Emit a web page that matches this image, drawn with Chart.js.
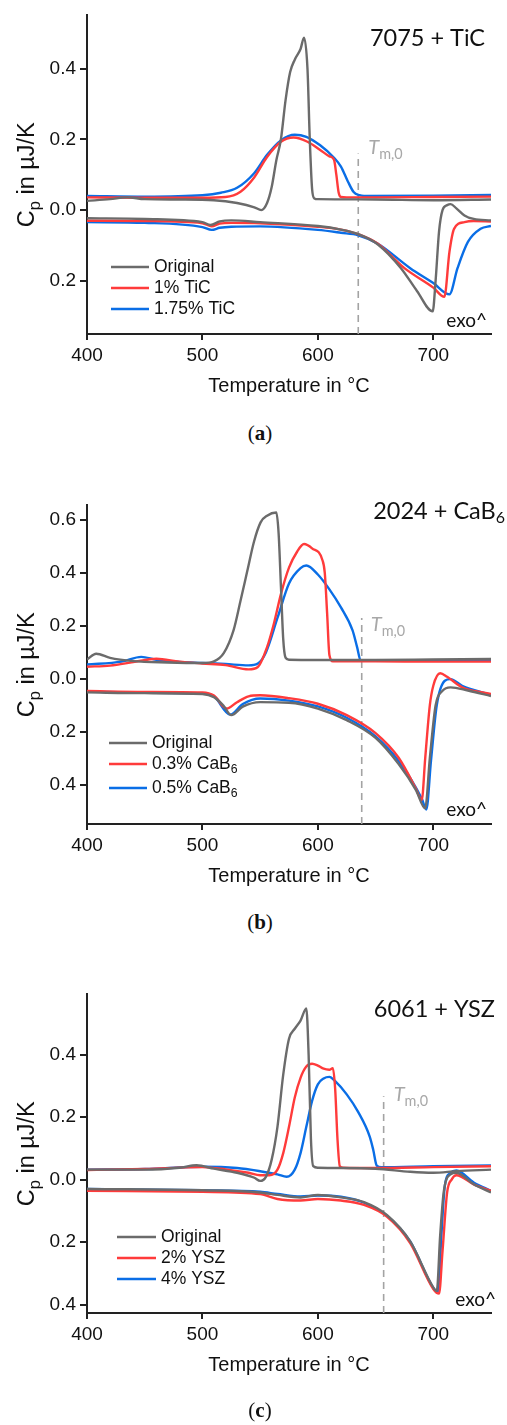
<!DOCTYPE html>
<html>
<head>
<meta charset="utf-8">
<script src="https://cdn.jsdelivr.net/npm/chart.js@4.4.1/dist/chart.umd.min.js"></script>
<style>
  html, body { margin: 0; padding: 0; background: #fff; overflow: hidden; width: 507px; height: 1425px; }
  canvas { position: absolute; left: 0; }
  .cap { position: absolute; left: 0; width: 520px; text-align: center; font: 21px "Liberation Serif", serif; color: #111; line-height: 24px; }
</style>
</head>
<body>
<canvas id="chartA" width="507" height="420" style="top:0px"></canvas>
<canvas id="chartB" width="507" height="420" style="top:490px"></canvas>
<canvas id="chartC" width="507" height="420" style="top:979px"></canvas>
<div class="cap" style="top:421px">(<b>a</b>)</div>
<div class="cap" style="top:910px">(<b>b</b>)</div>
<div class="cap" style="top:1398px">(<b>c</b>)</div>
<script>
// ---- (a) 7075 + TiC ----
const A_TITLE = '7075 + TiC';
const A_LABELS = ['Original', '1% TiC', '1.75% TiC'];
const A_ORIG_COOL_T  = [400, 420, 435, 450, 480, 510, 530, 545, 551, 556, 560, 564, 568, 572, 576, 580, 585, 588, 591, 593, 595, 597, 600, 650, 700, 750];
const A_ORIG_COOL_CP = [0.026, 0.031, 0.036, 0.031, 0.030, 0.028, 0.020, 0.008, 0.000, 0.020, 0.065, 0.14, 0.20, 0.31, 0.39, 0.425, 0.455, 0.487, 0.40, 0.20, 0.06, 0.033, 0.031, 0.030, 0.028, 0.030];
const A_R1_COOL_T  = [400, 450, 500, 520, 533, 545, 556, 568, 579, 591, 602, 610, 614, 616, 618, 620, 625, 650, 700, 750];
const A_R1_COOL_CP = [0.036, 0.035, 0.035, 0.037, 0.052, 0.093, 0.150, 0.193, 0.205, 0.193, 0.170, 0.152, 0.142, 0.10, 0.05, 0.037, 0.036, 0.036, 0.037, 0.038];
const A_R2_COOL_T  = [400, 450, 500, 516, 530, 545, 556, 568, 580, 590, 602, 614, 620, 626, 631, 636, 640, 700, 750];
const A_R2_COOL_CP = [0.040, 0.038, 0.042, 0.049, 0.063, 0.105, 0.156, 0.197, 0.213, 0.207, 0.183, 0.148, 0.123, 0.081, 0.051, 0.042, 0.040, 0.041, 0.043];
const A_ORIG_HEAT_T  = [400, 450, 500, 507, 515, 525, 550, 600, 620, 635, 652, 672, 686, 699.5, 702, 705, 708, 712, 715, 720, 727, 735, 750];
const A_ORIG_HEAT_CP = [-0.023, -0.025, -0.034, -0.042, -0.032, -0.029, -0.034, -0.045, -0.055, -0.068, -0.097, -0.164, -0.229, -0.286, -0.20, -0.06, 0.000, 0.014, 0.017, 0.005, -0.015, -0.025, -0.029];
const A_R1_HEAT_T  = [400, 450, 500, 508, 515, 525, 550, 600, 620, 635, 652, 675, 700, 709.6, 714, 718, 727, 735, 750];
const A_R1_HEAT_CP = [-0.030, -0.031, -0.037, -0.046, -0.038, -0.036, -0.037, -0.047, -0.055, -0.068, -0.095, -0.164, -0.219, -0.245, -0.118, -0.053, -0.034, -0.031, -0.032];
const A_R2_HEAT_T  = [400, 450, 500, 508, 515, 525, 550, 600, 620, 635, 652, 680, 700, 714, 721, 730, 741, 750];
const A_R2_HEAT_CP = [-0.034, -0.036, -0.048, -0.056, -0.050, -0.047, -0.046, -0.056, -0.064, -0.071, -0.095, -0.164, -0.206, -0.238, -0.164, -0.090, -0.053, -0.045];
const A_TM = [635, 0.16];

// ---- (b) 2024 + CaB6 ----
const B_TITLE = '2024 + CaB_{6}';
const B_LABELS = ['Original', '0.3% CaB_{6}', '0.5% CaB_{6}'];
const B_ORIG_COOL_T  = [400, 408, 420, 440, 470, 500, 510, 518.6, 527, 533, 538.8, 544.6, 550.4, 556, 564, 566, 568, 570, 572, 575, 600, 650, 700, 750];
const B_ORIG_COOL_CP = [0.073, 0.095, 0.079, 0.067, 0.062, 0.060, 0.066, 0.098, 0.184, 0.295, 0.406, 0.517, 0.591, 0.616, 0.628, 0.55, 0.35, 0.15, 0.08, 0.072, 0.071, 0.071, 0.073, 0.075];
const B_R1_COOL_T  = [400, 420, 440, 460, 480, 500, 520, 540, 548, 556, 562, 568, 575, 582, 588, 595, 604, 606, 608, 610, 613, 650, 700, 750];
const B_R1_COOL_CP = [0.046, 0.050, 0.063, 0.076, 0.065, 0.058, 0.052, 0.036, 0.045, 0.120, 0.210, 0.320, 0.420, 0.480, 0.509, 0.493, 0.448, 0.40, 0.25, 0.09, 0.066, 0.066, 0.065, 0.065];
const B_R2_COOL_T  = [400, 430, 447, 460, 480, 500, 520, 540, 548, 555, 565, 575, 585, 590, 600, 610, 620, 630, 634, 637, 640, 700, 750];
const B_R2_COOL_CP = [0.054, 0.065, 0.083, 0.072, 0.064, 0.060, 0.056, 0.051, 0.058, 0.100, 0.230, 0.360, 0.418, 0.428, 0.394, 0.338, 0.270, 0.184, 0.120, 0.070, 0.068, 0.070, 0.072];
const B_ORIG_HEAT_T  = [400, 450, 500, 510, 518, 525, 535, 550, 575, 600, 625, 650, 670, 685, 693, 697, 702, 708, 715, 730, 750];
const B_ORIG_HEAT_CP = [-0.051, -0.054, -0.057, -0.069, -0.100, -0.137, -0.105, -0.088, -0.090, -0.112, -0.156, -0.223, -0.322, -0.420, -0.489, -0.30, -0.10, -0.045, -0.032, -0.044, -0.065];
const B_R1_HEAT_T  = [400, 450, 500, 510, 521, 530, 540, 550, 575, 600, 625, 650, 670, 685, 690, 693, 697, 700, 706, 712, 725, 750];
const B_R1_HEAT_CP = [-0.046, -0.049, -0.051, -0.063, -0.112, -0.088, -0.066, -0.062, -0.073, -0.094, -0.137, -0.205, -0.298, -0.415, -0.458, -0.30, -0.10, -0.026, 0.021, 0.008, -0.032, -0.057];
const B_R2_HEAT_T  = [400, 450, 500, 510, 524, 535, 550, 575, 600, 625, 650, 670, 690, 694, 698, 703, 710, 715, 725, 750];
const B_R2_HEAT_CP = [-0.048, -0.052, -0.055, -0.066, -0.135, -0.095, -0.074, -0.082, -0.104, -0.147, -0.217, -0.310, -0.452, -0.493, -0.31, -0.10, -0.007, -0.001, -0.026, -0.060];
const B_TM = [638, 0.23];

// ---- (c) 6061 + YSZ ----
const C_TITLE = '6061 + YSZ';
const C_LABELS = ['Original', '2% YSZ', '4% YSZ'];
const C_ORIG_COOL_T  = [400, 450, 480, 495, 510, 530, 545, 550, 555, 560, 565, 570, 575, 580, 585, 590, 592, 594, 596, 600, 650, 680, 700, 720, 750];
const C_ORIG_COOL_CP = [0.032, 0.032, 0.038, 0.046, 0.035, 0.022, 0.006, -0.004, 0.009, 0.064, 0.169, 0.336, 0.451, 0.483, 0.509, 0.548, 0.40, 0.13, 0.043, 0.038, 0.035, 0.025, 0.022, 0.027, 0.032];
const C_R1_COOL_T  = [400, 450, 500, 520, 540, 550, 558, 565, 570, 575, 580, 585, 590, 595, 600, 605, 610, 613, 615, 617, 619, 622, 650, 700, 750];
const C_R1_COOL_CP = [0.031, 0.034, 0.040, 0.033, 0.022, 0.014, 0.014, 0.032, 0.085, 0.169, 0.263, 0.326, 0.362, 0.371, 0.365, 0.355, 0.352, 0.357, 0.29, 0.13, 0.043, 0.038, 0.037, 0.040, 0.043];
const C_R2_COOL_T  = [400, 450, 500, 530, 550, 565, 573, 580, 585, 590, 595, 600, 605, 610, 615, 625, 635, 645, 648, 651, 655, 700, 750];
const C_R2_COOL_CP = [0.032, 0.034, 0.041, 0.037, 0.027, 0.017, 0.009, 0.032, 0.085, 0.169, 0.252, 0.305, 0.324, 0.329, 0.315, 0.273, 0.216, 0.137, 0.095, 0.045, 0.040, 0.043, 0.045];
const C_ORIG_HEAT_T  = [400, 500, 550, 565, 585, 600, 620, 640, 660, 680, 700, 703, 706, 709, 715, 720, 735, 750];
const C_ORIG_HEAT_CP = [-0.030, -0.034, -0.041, -0.049, -0.057, -0.049, -0.057, -0.072, -0.114, -0.198, -0.345, -0.357, -0.177, -0.041, 0.017, 0.022, -0.015, -0.041];
const C_R1_HEAT_T  = [400, 500, 550, 565, 585, 600, 620, 640, 660, 680, 700, 705, 708, 712, 716, 720, 735, 750];
const C_R1_HEAT_CP = [-0.036, -0.039, -0.046, -0.062, -0.067, -0.062, -0.067, -0.081, -0.119, -0.203, -0.350, -0.365, -0.229, -0.041, 0.001, 0.014, -0.015, -0.036];
const C_R2_HEAT_T  = [400, 500, 550, 565, 585, 600, 620, 640, 660, 680, 700, 704, 707, 710, 715, 720, 735, 750];
const C_R2_HEAT_CP = [-0.030, -0.034, -0.039, -0.046, -0.054, -0.051, -0.055, -0.074, -0.116, -0.198, -0.347, -0.360, -0.18, -0.020, 0.022, 0.029, -0.009, -0.036];
const C_TM = [657, 0.267];

const X_TICKS_STEP = 100;
const COLORS = ['#6b6b6b', '#ff3b3b', '#0a6ee6'];
const TM_COLOR = '#a3a3a3';
const SANS = '"Liberation Sans", Arial, sans-serif';
const CAL = 'Lato, "Open Sans", sans-serif';

// "_{...}" in a label marks a subscript
function richParts(s) {
  const parts = [];
  const re = /_\{([^}]*)\}/g;
  let last = 0, m;
  while ((m = re.exec(s))) {
    if (m.index > last) parts.push({ t: s.slice(last, m.index), sub: false });
    parts.push({ t: m[1], sub: true });
    last = re.lastIndex;
  }
  if (last < s.length) parts.push({ t: s.slice(last), sub: false });
  return parts;
}

function drawRich(ctx, s, x, y, size, family, align, mainStyle, subScale) {
  const parts = richParts(s);
  const subSize = size * (subScale || 0.68);
  const fontFor = (p) => (p.sub ? '' : (mainStyle || '')) + ' ' + (p.sub ? subSize : size) + 'px ' + family;
  let w = 0;
  for (const p of parts) { ctx.font = fontFor(p); w += ctx.measureText(p.t).width; }
  let cx = align === 'right' ? x - w : align === 'center' ? x - w / 2 : x;
  ctx.textBaseline = 'middle';
  ctx.textAlign = 'left';
  for (const p of parts) {
    ctx.font = fontFor(p);
    ctx.fillText(p.t, cx, p.sub ? y + size * 0.3 : y);
    cx += ctx.measureText(p.t).width;
  }
}

const annotate = {
  id: 'annotate',
  afterDraw(chart, args, o) {
    const { ctx, chartArea, scales } = chart;
    ctx.save();
    // y axis title (has a subscript, so drawn by hand)
    ctx.fillStyle = '#111';
    ctx.translate(28, (chartArea.top + chartArea.bottom) / 2);
    ctx.rotate(-Math.PI / 2);
    drawRich(ctx, 'C_{p} in µJ/K', 0, 0, 23.5, SANS, 'center', '', 0.7);
    ctx.setTransform(1, 0, 0, 1, 0, 0);
    drawRich(ctx, o.title, o.titlePos[0], o.titlePos[1], 23.5, CAL, 'right', '', 0.68);
    ctx.font = '19px ' + CAL;
    ctx.textAlign = 'right';
    ctx.textBaseline = 'middle';
    ctx.fillText('exo^', o.exoPos[0], o.exoPos[1]);
    ctx.fillStyle = '#a8a8a8';
    drawRich(ctx, 'T_{m,0}', scales.x.getPixelForValue(o.tmX) + o.tmDx, o.tmY, 20, CAL, 'left', 'italic', 0.72);
    // legend sits inside the plot, lower left
    o.labels.forEach((lab, i) => {
      const y = o.legend.rows[i];
      ctx.strokeStyle = COLORS[i];
      ctx.lineWidth = 2.5;
      ctx.beginPath();
      ctx.moveTo(o.legend.x0, y);
      ctx.lineTo(o.legend.x1, y);
      ctx.stroke();
      ctx.fillStyle = '#111';
      drawRich(ctx, lab, o.legend.tx, y, 17.5, SANS, 'left', '', 0.7);
    });
    ctx.restore();
  }
};

function curve(temps, cps, color) {
  return {
    data: temps.map((t, i) => ({ x: t, y: cps[i] })),
    borderColor: color,
    borderWidth: 2.4,
    pointRadius: 0,
    fill: false,
    cubicInterpolationMode: 'monotone',
  };
}

function makeChart(id, yMin, yMax, groups, tm, extra) {
  const datasets = [];
  groups.forEach(([coolT, coolCp, heatT, heatCp], i) => {
    datasets.push(curve(heatT, heatCp, COLORS[i]));
    datasets.push(curve(coolT, coolCp, COLORS[i]));
  });
  datasets.push({
    data: [{ x: tm[0], y: yMin }, { x: tm[0], y: tm[1] }],
    borderColor: TM_COLOR,
    borderWidth: 1.6,
    borderDash: [7, 5],
    pointRadius: 0,
    fill: false,
  });
  const tickFont = { family: SANS, size: 19 };
  return new Chart(document.getElementById(id), {
    type: 'line',
    data: { datasets },
    plugins: [annotate],
    options: {
      responsive: false,
      animation: false,
      layout: { padding: { top: 9, right: 16, bottom: 22, left: 0 } },
      plugins: {
        legend: { display: false },
        tooltip: { enabled: false },
        annotate: Object.assign({ tmX: tm[0] }, extra),
      },
      scales: {
        x: {
          type: 'linear',
          min: 400,
          max: 750,
          afterFit: (s) => { s.height = 64; },
          border: { color: '#222', width: 2 },
          grid: { drawOnChartArea: false, tickLength: 6, lineWidth: 2, color: '#222' },
          ticks: { stepSize: X_TICKS_STEP, includeBounds: false, padding: 4, color: '#111', font: tickFont, maxRotation: 0 },
          title: { display: true, text: 'Temperature in °C', color: '#111', padding: 0, font: { family: SANS, size: 20 } },
        },
        y: {
          min: yMin,
          max: yMax,
          afterFit: (s) => { s.width = 87; },
          border: { color: '#222', width: 2 },
          grid: { drawOnChartArea: false, tickLength: 7, lineWidth: 2, color: '#222' },
          ticks: {
            stepSize: 0.2,
            includeBounds: false,
            padding: 4,
            color: '#111',
            font: tickFont,
            callback: (v) => Math.abs(v).toFixed(1),
          },
        },
      },
    },
  });
}

makeChart('chartA', -0.35, 0.55, [
  [A_ORIG_COOL_T, A_ORIG_COOL_CP, A_ORIG_HEAT_T, A_ORIG_HEAT_CP],
  [A_R1_COOL_T, A_R1_COOL_CP, A_R1_HEAT_T, A_R1_HEAT_CP],
  [A_R2_COOL_T, A_R2_COOL_CP, A_R2_HEAT_T, A_R2_HEAT_CP],
], A_TM, {
  title: A_TITLE, labels: A_LABELS, titlePos: [485, 38], exoPos: [487, 321],
  tmDx: 10, tmY: 148, legend: { x0: 111, x1: 149, tx: 154, rows: [267, 288, 309] },
});

makeChart('chartB', -0.548, 0.655, [
  [B_ORIG_COOL_T, B_ORIG_COOL_CP, B_ORIG_HEAT_T, B_ORIG_HEAT_CP],
  [B_R1_COOL_T, B_R1_COOL_CP, B_R1_HEAT_T, B_R1_HEAT_CP],
  [B_R2_COOL_T, B_R2_COOL_CP, B_R2_HEAT_T, B_R2_HEAT_CP],
], B_TM, {
  title: B_TITLE, labels: B_LABELS, titlePos: [505, 21], exoPos: [487, 320],
  tmDx: 9, tmY: 135, legend: { x0: 109, x1: 147, tx: 152, rows: [253, 274, 298] },
});

makeChart('chartC', -0.427, 0.593, [
  [C_ORIG_COOL_T, C_ORIG_COOL_CP, C_ORIG_HEAT_T, C_ORIG_HEAT_CP],
  [C_R1_COOL_T, C_R1_COOL_CP, C_R1_HEAT_T, C_R1_HEAT_CP],
  [C_R2_COOL_T, C_R2_COOL_CP, C_R2_HEAT_T, C_R2_HEAT_CP],
], C_TM, {
  title: C_TITLE, labels: C_LABELS, titlePos: [495, 30], exoPos: [496, 321],
  tmDx: 10, tmY: 116, legend: { x0: 117, x1: 156, tx: 161, rows: [258, 279, 300] },
});
</script>
</body>
</html>
